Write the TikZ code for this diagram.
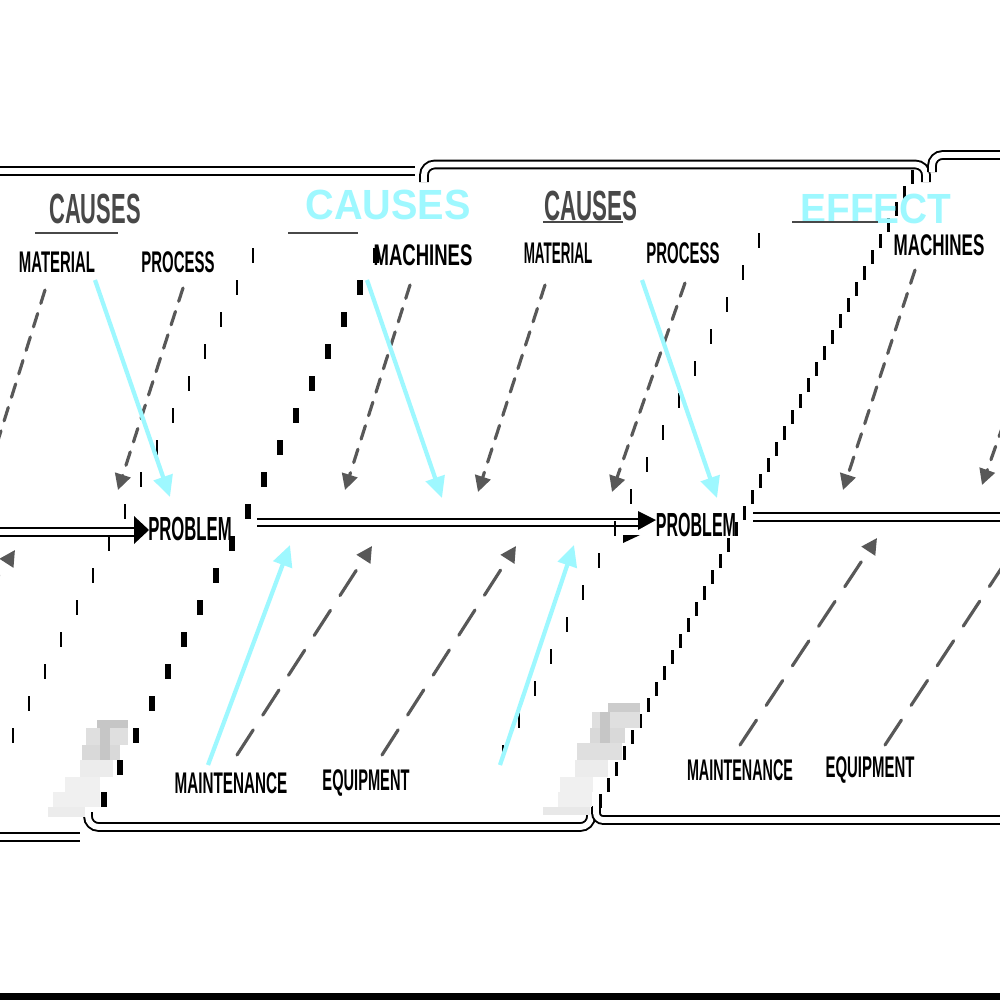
\documentclass[tikz,border=0pt]{standalone}
\usepackage{fontspec}
\setmainfont{Liberation Sans}
\usepackage{graphicx}
\usetikzlibrary{arrows.meta}
\definecolor{bonegray}{RGB}{88,88,88}
\definecolor{headgray}{RGB}{72,72,72}
\definecolor{arrowcyan}{RGB}{158,248,255}
\newcommand{\squeeze}[2]{\scalebox{#1}[1]{#2}}
\tikzset{
    frame/.style={draw=black,line width=1.1pt,double=white,double distance=3.3pt},
    bone/.style={draw=bonegray,line width=1.8pt,line cap=round,dash pattern=on 8pt off 6pt,-{Triangle[length=9pt,width=9pt]}},
    lowbone/.style={bone,dash pattern=on 17pt off 10pt},
    cyanarrow/.style={draw=arrowcyan,line width=2.4pt,-{Triangle[length=12pt,width=11pt]}},
    heading/.style={inner sep=0pt,font=\fontsize{24}{26}\selectfont\bfseries},
    cat/.style={inner sep=0pt,font=\fontsize{17}{19}\selectfont\bfseries},
}
\begin{document}
\begin{tikzpicture}[x=0.2mm,y=-0.2mm]
        \clip (0,0) rectangle (1000,1000);
        \fill[white] (0,0) rectangle (1000,1000);
        \fill[black] (0,993) rectangle (1000,1000);
        % frames
        \draw[frame] (0,171) -- (415,171);
        \draw[frame,rounded corners=6pt] (424,182) |- (926,164.5) -- (926,182);
        \draw[frame,rounded corners=6pt] (932,172) |- (1000,155);
        \draw[frame] (0,837) -- (80,837);
        \draw[frame,rounded corners=6pt] (88,812) |- (591,827) -- (591,812);
        \draw[frame,rounded corners=4pt] (596,806) |- (1000,820);
        % spine
        \coordinate (spineA) at (0,532);
        \coordinate (spineB) at (134,532);
        \coordinate (spineC) at (257,522.5);
        \coordinate (spineD) at (638,522.5);
        \coordinate (spineE) at (753,517);
        \coordinate (spineF) at (1000,517);
        \draw[frame] (spineA) -- (spineB);
        \draw[frame] (spineC) -- (spineD);
        \draw[frame] (spineE) -- (spineF);
        \fill (134,516) -- (149,530) -- (134,544) -- cycle;
        \fill (638,511) -- (656,520) -- (638,530) -- cycle;
        \fill (623,535) -- (640,535) -- (623,543) -- cycle;
        % torn edges
        \foreach \k in {0,...,15}
            \fill ({252-16*\k},{248+32*\k}) rectangle +(2,15);
        \foreach \k in {0,...,17}
            \fill ({373-16*\k},{248+32*\k}) rectangle +(6,15);
        \foreach \k in {0,...,16}
            \fill ({758-16*\k},{233+32*\k}) rectangle +(2,15);
        \foreach \k in {0,...,39}
            \fill ({911-8*\k},{170+16*\k}) rectangle +(3,14);
        % icons
        \foreach \xa/\ya/\xb/\yb/\tone in {97/720/128/728/45,86/728/128/745/25,82/745/120/760/30,80/760/113/777/15,65/777/100/792/12,53/792/100/807/12,48/807/85/817/15,100/728/110/760/45}
            \fill[gray!\tone] (\xa,\ya) rectangle (\xb,\yb);
        \foreach \xa/\ya/\xb/\yb/\tone in {608/703/640/712/40,592/712/640/728/25,590/728/625/743/30,577/743/622/760/25,575/760/608/777/15,560/777/593/792/12,558/792/592/807/12,543/807/590/815/18,600/712/610/743/45}
            \fill[gray!\tone] (\xa,\ya) rectangle (\xb,\yb);
        % headings
        \node[heading,text=headgray] (causL) at (95,209) {\squeeze{0.52}{CAUSES}};
        \node[heading,text=arrowcyan] (causM) at (388,205) {\squeeze{0.94}{CAUSES}};
        \node[heading,text=headgray] (causR) at (591,206) {\squeeze{0.53}{CAUSES}};
        \node[heading,text=arrowcyan] (effR) at (876,209) {\squeeze{0.92}{EFFECT}};
        \draw[headgray,line width=1.7pt] (35,233) -- (118,233);
        \draw[headgray,line width=1.7pt] (288,233) -- (358,233);
        \draw[headgray,line width=1.2pt] (543,222) -- (623,222);
        \draw[headgray,line width=1.2pt] (792,222) -- (878,222);
        % categories
        \node[cat] (matL) at (57,262) {\squeeze{0.5}{MATERIAL}};
        \node[cat] (procL) at (178,262) {\squeeze{0.5}{PROCESS}};
        \node[cat] (machL) at (423,255) {\squeeze{0.62}{MACHINES}};
        \node[cat] (matR) at (558,253) {\squeeze{0.45}{MATERIAL}};
        \node[cat] (procR) at (683,253) {\squeeze{0.5}{PROCESS}};
        \node[cat] (machR) at (939,245) {\squeeze{0.57}{MACHINES}};
        \node[cat] (maintL) at (231,783) {\squeeze{0.51}{MAINTENANCE}};
        \node[cat] (equipL) at (366,783) {\squeeze{0.49}{EQUIPMENT}};
        \node[cat] (maintR) at (740,770) {\squeeze{0.48}{MAINTENANCE}};
        \node[cat] (equipR) at (870,770) {\squeeze{0.5}{EQUIPMENT}};
        \node[cat,font=\fontsize{19}{21}\selectfont\bfseries] (probL) at (190,529) {\squeeze{0.5}{PROBLEM}};
        \node[cat,font=\fontsize{19}{21}\selectfont\bfseries] (probR) at (696,525) {\squeeze{0.48}{PROBLEM}};
        % bones
        \foreach \xa/\ya/\xb/\yb in {45/290/-15/482,183/288/118/490,410/285/345/490,545/285/478/492,685/283/612/492,915/270/843/490,1012/400/982/485}
            \draw[bone] (\xa,\ya) -- (\xb,\yb);
        \foreach \xa/\ya/\xb/\yb in {-43/640/15/550,237/755/372/546,382/755/516/546,740/745/877/538,885/745/1020/540}
            \draw[lowbone] (\xa,\ya) -- (\xb,\yb);
        \foreach \xa/\ya/\xb/\yb in {95/280/170/497,367/280/442/498,642/280/717/498,208/765/290/545,500/765/574/545}
            \draw[cyanarrow] (\xa,\ya) -- (\xb,\yb);
\end{tikzpicture}
\end{document}
